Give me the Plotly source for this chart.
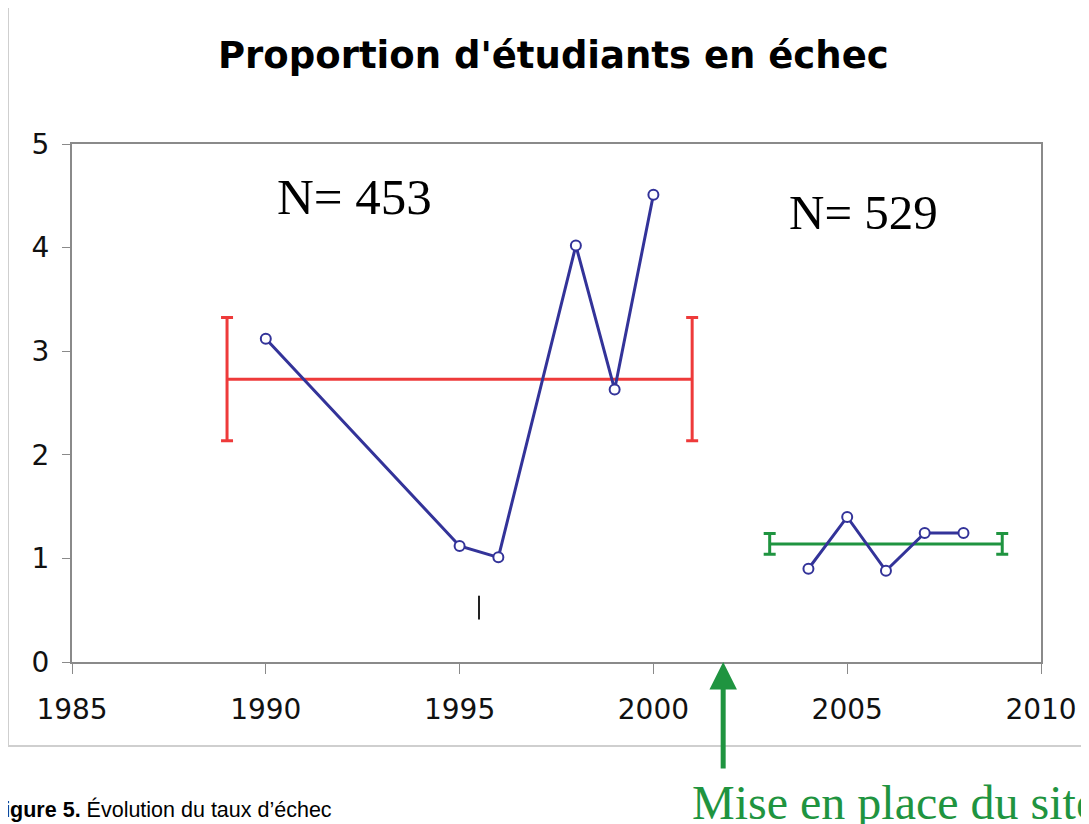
import plotly.graph_objects as go

# Data
before_years = [1990, 1995, 1996, 1998, 1999, 2000]
before_rate = [3.12, 1.12, 1.01, 4.02, 2.63, 4.51]
after_years = [2004, 2005, 2006, 2007, 2008]
after_rate = [0.90, 1.40, 0.88, 1.245, 1.245]

before_mean_span = [1989, 2001]
before_mean = 2.73
before_err = 0.595
after_mean_span = [2003, 2009]
after_mean = 1.14
after_err = 0.10

mark_x = [1995.5, 1995.5]
mark_y = [0.41, 0.64]

site_year = 2001.8
x_ticks = [1985, 1990, 1995, 2000, 2005, 2010]
y_ticks = [0, 1, 2, 3, 4, 5]

W, H = 1089, 824
OFF = 8  # page body margin
L, R, T, B = 72 - OFF, 1089 - (1041 - OFF), 144 - OFF, 824 - (662 - OFF)
pw = W - L - R
ph = H - T - B


def px(sx):
    return (sx - OFF - L) / pw


def py(sy):
    return (H - B - (sy - OFF)) / ph


BLUE = "#333399"
RED = "#ee3a3a"
GREEN = "#1f9440"

fig = go.Figure()

fig.add_trace(go.Scatter(
    x=before_mean_span, y=[before_mean] * 2, mode="lines",
    line=dict(color=RED, width=3),
    error_y=dict(type="constant", value=before_err, color=RED, thickness=3, width=6),
    hoverinfo="skip", showlegend=False))
fig.add_trace(go.Scatter(
    x=after_mean_span, y=[after_mean] * 2, mode="lines",
    line=dict(color=GREEN, width=3),
    error_y=dict(type="constant", value=after_err, color=GREEN, thickness=3, width=6),
    hoverinfo="skip", showlegend=False))

for xs, ys in [(before_years, before_rate), (after_years, after_rate)]:
    fig.add_trace(go.Scatter(
        x=xs, y=ys, mode="lines+markers",
        line=dict(color=BLUE, width=3),
        marker=dict(symbol="circle", size=10, color="white",
                    line=dict(color=BLUE, width=2)),
        showlegend=False))

fig.add_trace(go.Scatter(
    x=mark_x, y=mark_y, mode="lines",
    line=dict(color="#222222", width=2),
    hoverinfo="skip", showlegend=False))

# outer frame
fig.add_shape(type="rect", xref="paper", yref="paper",
              x0=px(8), x1=px(1110), y0=py(746), y1=py(7),
              line=dict(color="#cfcfcf", width=2), layer="below")

fig.add_annotation(text="<b>Proportion d'étudiants en échec</b>",
                   xref="paper", yref="paper", x=px(553), y=py(55),
                   showarrow=False, xanchor="center", yanchor="middle",
                   font=dict(family="DejaVu Sans", size=37, color="black"))

fig.add_annotation(text="N= 453", x=1992.3, y=4.49, xref="x", yref="y",
                   showarrow=False, xanchor="center", yanchor="middle",
                   font=dict(family="Liberation Serif", size=51, color="black"))
fig.add_annotation(text="N= 529", x=2005.42, y=4.34, xref="x", yref="y",
                   showarrow=False, xanchor="center", yanchor="middle",
                   font=dict(family="Liberation Serif", size=49, color="black"))

fig.add_annotation(x=site_year, y=0, xref="x", yref="y",
                   ax=0, ay=108, axref="pixel", ayref="pixel",
                   showarrow=True, arrowhead=2, arrowsize=1.1, arrowwidth=5,
                   arrowcolor=GREEN, text="")

fig.add_annotation(text="Mise en place du site", xref="paper", yref="paper",
                   x=px(690), y=py(802), xanchor="left", yanchor="middle",
                   showarrow=False,
                   font=dict(family="Liberation Serif", size=48, color=GREEN))

fig.add_annotation(text="<b>Figure 5.</b> Évolution du taux d’échec",
                   xref="paper", yref="paper",
                   x=px(-11), y=py(809), xanchor="left", yanchor="middle",
                   showarrow=False,
                   font=dict(family="Liberation Sans", size=21.5, color="black"))

fig.update_layout(
    width=W, height=H,
    margin=dict(l=L, r=R, t=T, b=B, autoexpand=False),
    paper_bgcolor="white", plot_bgcolor="white",
    showlegend=False,
    xaxis=dict(range=[1985, 2010], tickvals=x_ticks, showgrid=False, zeroline=False,
               showline=True, mirror=True, linecolor="#8a8a8a", linewidth=2,
               ticks="outside", ticklen=10, tickcolor="#8a8a8a", tickwidth=1,
               ticklabelstandoff=11,
               tickfont=dict(family="DejaVu Sans", size=28, color="#111111")),
    yaxis=dict(range=[0, 5], tickvals=y_ticks, showgrid=False, zeroline=False,
               showline=True, mirror=True, linecolor="#8a8a8a", linewidth=2,
               ticks="outside", ticklen=8, tickcolor="#8a8a8a", tickwidth=1,
               ticklabelstandoff=7,
               tickfont=dict(family="DejaVu Sans", size=28, color="#111111")),
)

fig.write_html("out.html")
